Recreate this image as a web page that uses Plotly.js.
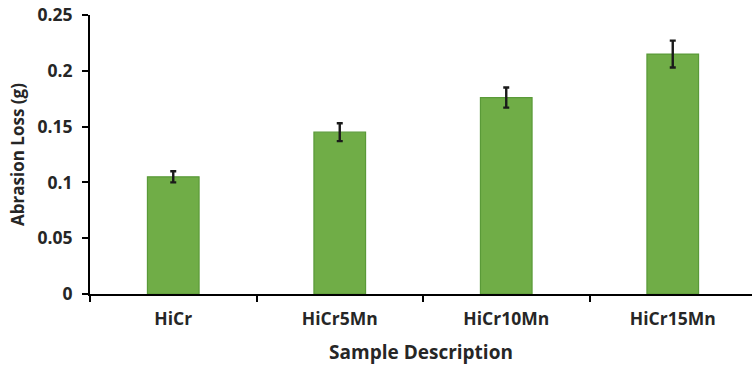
<!DOCTYPE html>
<html><head><meta charset="utf-8">
<script src="https://cdn.plot.ly/plotly-3.0.1.min.js"></script>
<style>html,body{margin:0;padding:0;background:#fff;}#chart{width:752px;height:369px;}</style>
</head><body><div id="chart"></div>
<script>
const categories = ["HiCr", "HiCr5Mn", "HiCr10Mn", "HiCr15Mn"];
const abrasionLoss = [0.105, 0.145, 0.176, 0.215];
const errorValues = [0.005, 0.008, 0.009, 0.012];
const yTickVals = [0, 0.05, 0.1, 0.15, 0.2, 0.25];
const yTickText = ["0", "0.05", "0.1", "0.15", "0.2", "0.25"];

const font = "'Open Sans', Lato, sans-serif";
Plotly.newPlot("chart", [{
  type: "bar",
  x: categories,
  y: abrasionLoss,
  marker: {color: "#70ad47", line: {color: "#5a9a38", width: 1.2}},
  error_y: {type: "data", array: errorValues, visible: true, color: "#1a1a1a", thickness: 2.4, width: 3}
}], {
  width: 752, height: 369,
  margin: {l: 90, r: 0, t: 15, b: 75},
  paper_bgcolor: "#fff", plot_bgcolor: "#fff",
  bargap: 0.69,
  showlegend: false,
  xaxis: {
    type: "category",
    range: [-0.5, 3.476],
    showline: true, linecolor: "#000", linewidth: 2,
    ticks: "outside", tickson: "boundaries", ticklen: 6, tickwidth: 2, tickcolor: "#000",
    ticklabelstandoff: 8,
    tickfont: {family: font, size: 17.5, color: "#262626", weight: "bold"},
    title: {text: "Sample Description", font: {family: font, size: 19, color: "#262626", weight: "bold"}, standoff: 17},
    showgrid: false, zeroline: false
  },
  yaxis: {
    range: [0, 0.25],
    tickvals: yTickVals, ticktext: yTickText,
    showline: true, linecolor: "#000", linewidth: 2,
    ticks: "outside", ticklen: 6, tickwidth: 2, tickcolor: "#000",
    ticklabelstandoff: 6,
    tickfont: {family: font, size: 17.5, color: "#262626", weight: "bold"},
    title: {text: "Abrasion Loss (g)", font: {family: font, size: 17, color: "#262626", weight: "bold"}, standoff: 9},
    showgrid: false, zeroline: false
  }
}, {staticPlot: true});
</script></body></html>
